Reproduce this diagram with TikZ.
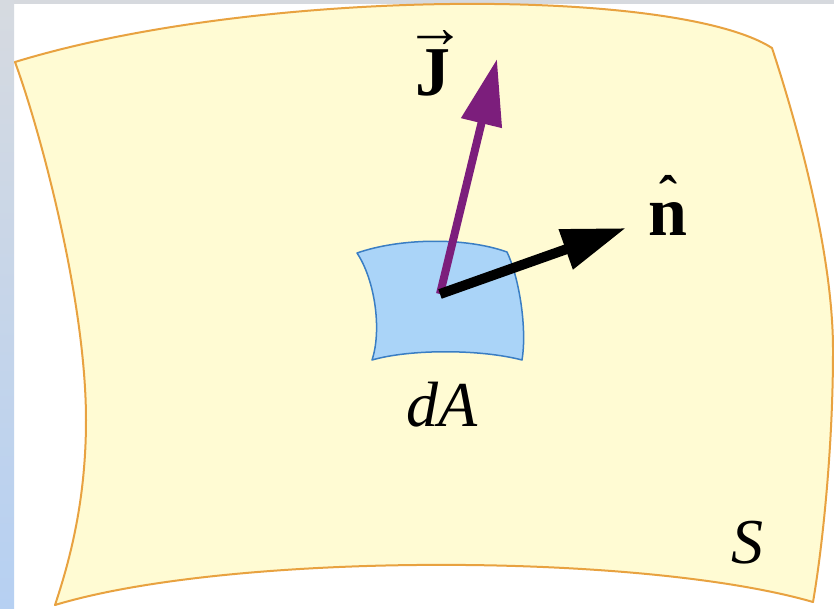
\RequirePackage{fix-cm}
\documentclass[tikz,border=0pt]{standalone}
\usepackage{fontspec}
\setmainfont{Liberation Serif}
\usetikzlibrary{arrows.meta}
\definecolor{surf}{RGB}{255,251,211}
\definecolor{surfedge}{RGB}{232,162,64}
\definecolor{patch}{RGB}{170,212,248}
\definecolor{patchedge}{RGB}{58,126,196}
\definecolor{jpurple}{RGB}{124,30,124}
\definecolor{stripTop}{RGB}{214,218,224}
\definecolor{stripBot}{RGB}{182,208,242}
\definecolor{topstrip}{RGB}{214,217,222}
\newcommand\myacc[3]{\leavevmode\setbox0=\hbox{#2}\rlap{\hbox to \wd0{\hss\raisebox{#3}{#1}\hss}}\box0}
\tikzset{
  surfline/.style={draw=surfedge, fill=surf, line width=2pt, line join=round},
  patchline/.style={draw=patchedge, fill=patch, line width=1.5pt, line join=round},
  jarrow/.style={draw=jpurple, line width=8pt, -{Triangle[length=66pt,width=40pt]}},
  narrow/.style={draw=black, line width=10pt, -{Triangle[length=64pt,width=40pt]}},
  lbl/.style={inner sep=0pt, anchor=base, font=\fontsize{64}{64}\selectfont},
  blbl/.style={inner sep=0pt, anchor=base, font=\fontsize{70}{70}\selectfont\bfseries}
}
\begin{document}
\begin{tikzpicture}[x=1pt,y=-1pt]
\useasboundingbox (0,0) rectangle (834,608);
\fill[white] (0,0) rectangle (834,608);
\shade[top color=stripTop, bottom color=stripBot] (0,0) rectangle (14,608);
\fill[topstrip] (14,0) rectangle (834,4);
% surface S
\path[surfline] (15,62) .. controls (260,-13) and (677,-13) .. (772,48)
  .. controls (795,118) and (833,250) .. (833,350)
  .. controls (833,450) and (822,550) .. (813,602)
  .. controls (640,552) and (230,552) .. (55,605)
  .. controls (70,560) and (86,500) .. (86,420)
  .. controls (86,300) and (40,130) .. (15,62) -- cycle;
% patch dA
\path[patchline] (357,253) .. controls (400,238) and (465,237) .. (507,252)
  .. controls (520,280) and (527,330) .. (522,360)
  .. controls (480,349) and (410,349) .. (372,360)
  .. controls (382,330) and (375,280) .. (357,253) -- cycle;
% arrows
\coordinate (O) at (440,294);
\coordinate (Jtip) at (497,59);
\coordinate (ntip) at (626,228);
\draw[jarrow] (O) -- (Jtip);
\draw[narrow] (O) -- (ntip);
% labels
\node[blbl] (Jl) at (433,95) {\myacc{\fontsize{60}{60}\selectfont\mdseries\hspace{4pt}→}{J}{48pt}};
\node[blbl] (nl) at (668,235) {\myacc{\fontsize{54}{54}\selectfont\char"02C6}{n}{22pt}};
\node[lbl] (dAl) at (442,426) {\itshape dA};
\node[lbl] (Sl) at (747,563) {\itshape S};
\end{tikzpicture}
\end{document}
